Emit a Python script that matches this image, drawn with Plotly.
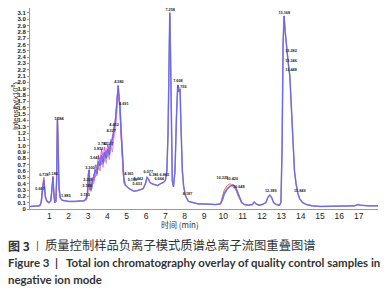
import plotly.graph_objects as go

# ---------------- data ----------------
rt = [0.0, 0.3, 0.5, 0.58, 0.63, 0.67, 0.72, 0.76, 0.8, 0.88, 0.98, 1.08, 1.14, 1.19, 1.23, 1.28,
      1.34, 1.38, 1.42, 1.46, 1.5, 1.56, 1.65, 1.8, 2.0, 2.3, 2.6, 2.8, 2.9, 2.97, 3.02, 3.06, 3.1,
      3.16, 3.22, 3.3, 3.38, 3.46, 3.54, 3.62, 3.7, 3.78, 3.86, 3.94, 4.02, 4.1, 4.18, 4.26, 4.34,
      4.42, 4.5, 4.56, 4.61, 4.66, 4.72, 4.78, 4.85, 4.92, 5.0, 5.1, 5.25, 5.4, 5.55, 5.7, 5.85,
      5.97, 6.05, 6.12, 6.2, 6.3, 6.45, 6.6, 6.75, 6.9, 7.0, 7.08, 7.14, 7.19, 7.23, 7.27, 7.31,
      7.36, 7.42, 7.5, 7.58, 7.64, 7.7, 7.76, 7.82, 7.88, 7.95, 8.05, 8.2, 8.4, 8.7, 9.0, 9.3, 9.6,
      9.85, 9.95, 10.05, 10.2, 10.35, 10.5, 10.65, 10.8, 10.95, 11.1, 11.3, 11.5, 11.6, 11.7, 11.85,
      12.0, 12.2, 12.3, 12.4, 12.5, 12.6, 12.75, 12.9, 12.98, 13.04, 13.09, 13.14, 13.2, 13.28,
      13.36, 13.44, 13.52, 13.6, 13.68, 13.76, 13.85, 13.95, 14.1, 14.3, 14.6, 15.0, 15.5, 16.0,
      16.5, 16.8, 16.95, 17.1, 17.5, 18.0]

blue = [0.04, 0.04, 0.05, 0.1, 0.3, 0.35, 0.46, 0.28, 0.18, 0.12, 0.1, 0.13, 0.3, 0.5, 0.25, 0.1,
        0.12, 0.5, 1.45, 0.9, 0.35, 0.18, 0.14, 0.13, 0.12, 0.12, 0.12, 0.13, 0.16, 0.25, 0.55, 0.62,
        0.35, 0.3, 0.4, 0.5, 0.62, 0.55, 0.75, 0.68, 0.85, 0.72, 0.9, 0.8, 0.95, 0.85, 1.05, 1.1,
        1.25, 1.4, 1.7, 1.95, 1.75, 1.6, 1.2, 0.8, 0.5, 0.38, 0.35, 0.33, 0.3, 0.28, 0.29, 0.3, 0.32,
        0.4, 0.5, 0.48, 0.42, 0.4, 0.38, 0.37, 0.4, 0.42, 0.45, 0.6, 1.2, 2.3, 3.1, 2.4, 1.0,
        0.45, 0.35, 0.6, 1.5, 1.95, 1.85, 1.9, 1.2, 0.6, 0.35, 0.2, 0.12, 0.1, 0.08, 0.08, 0.07, 0.07,
        0.08, 0.15, 0.25, 0.32, 0.36, 0.38, 0.33, 0.2, 0.1, 0.07, 0.06, 0.07, 0.11, 0.08, 0.06,
        0.07, 0.1, 0.18, 0.22, 0.18, 0.1, 0.07, 0.06, 0.1, 1.0, 2.6, 3.05, 2.8, 2.5,
        2.3, 2.1, 1.6, 1.1, 0.6, 0.4, 0.25, 0.16, 0.1, 0.07, 0.05, 0.04, 0.04, 0.04,
        0.04, 0.05, 0.07, 0.06, 0.05, 0.05]

rt_mid = [2.9, 2.97, 3.02, 3.06, 3.1, 3.16, 3.22, 3.3, 3.38, 3.46, 3.54, 3.62, 3.7, 3.78, 3.86,
          3.94, 4.02, 4.1, 4.18, 4.26, 4.34, 4.42, 4.5, 4.56, 4.61, 4.66, 4.72, 4.78, 4.85]
magenta_mid = [0.15, 0.22, 0.5, 0.58, 0.3, 0.35, 0.5, 0.45, 0.7, 0.6, 0.85, 0.7, 0.95, 0.8, 0.98,
               0.85, 1.02, 0.92, 1.1, 1.0, 1.3, 1.35, 1.75, 1.9, 1.7, 1.55, 1.1, 0.75, 0.45]
green_mid = [0.14, 0.2, 0.45, 0.55, 0.32, 0.28, 0.35, 0.55, 0.5, 0.7, 0.62, 0.8, 0.7, 0.88, 0.75,
             0.92, 0.82, 1.0, 0.95, 1.15, 1.2, 1.45, 1.6, 1.85, 1.8, 1.5, 1.15, 0.7, 0.42]
pink_mid = [0.13, 0.18, 0.4, 0.5, 0.28, 0.3, 0.42, 0.4, 0.58, 0.52, 0.72, 0.6, 0.8, 0.66, 0.85,
            0.72, 0.9, 0.78, 0.98, 0.9, 1.12, 1.25, 1.55, 1.8, 1.72, 1.45, 1.05, 0.65, 0.4]

rt_early = [0.5, 0.58, 0.63, 0.67, 0.72, 0.76, 0.8, 0.88, 0.98, 1.08, 1.14, 1.19, 1.23, 1.28, 1.34,
            1.38, 1.42, 1.46, 1.5, 1.56, 1.65]
red_early = [0.05, 0.12, 0.33, 0.4, 0.5, 0.3, 0.2, 0.13, 0.11, 0.14, 0.32, 0.52, 0.27, 0.11, 0.13,
             0.45, 1.4, 0.85, 0.3, 0.17, 0.14]

rt_late = [9.85, 9.95, 10.05, 10.2, 10.35, 10.5, 10.65, 10.8, 10.95, 11.1]
red_late = [0.08, 0.18, 0.3, 0.37, 0.4, 0.36, 0.3, 0.18, 0.1, 0.07]
green_late = [0.08, 0.13, 0.22, 0.3, 0.35, 0.39, 0.35, 0.22, 0.11, 0.07]

peak_text = ["0.667", "0.738", "1.180", "1.384", "1.885", "3.150", "3.188", "3.209", "3.300",
             "3.641", "3.852", "3.792", "4.127", "4.327", "4.452", "4.580", "4.691", "4.961",
             "5.185", "5.442", "5.633", "6.077", "6.386", "6.664", "6.865", "7.258", "7.608",
             "7.756", "8.187", "10.325", "10.420", "10.648", "12.389", "13.168", "13.282",
             "13.346", "13.448", "13.849"]
peak_rt = [0.52, 0.72, 1.2, 1.5, 1.85, 2.85, 2.95, 3.0, 3.1, 3.35, 3.55, 3.75, 4.05, 4.2, 4.35,
           4.6, 4.85, 5.12, 5.3, 5.6, 5.55, 6.12, 6.4, 6.68, 6.95, 7.25, 7.65, 7.85, 8.15, 9.95,
           10.46, 10.8, 12.45, 13.15, 13.5, 13.5, 13.5, 13.95]
peak_int = [0.31, 0.53, 0.55, 1.42, 0.2, 0.22, 0.36, 0.46, 0.64, 0.8, 0.94, 1.03, 1.02, 1.23,
            1.33, 2.0, 1.65, 0.55, 0.45, 0.47, 0.39, 0.58, 0.53, 0.47, 0.53, 3.14, 2.02, 1.92, 0.24,
            0.49, 0.47, 0.34, 0.28, 3.1, 2.5, 2.33, 2.2, 0.28]

x_ticks = list(range(1, 18))
y_ticks = [i / 10 for i in range(0, 32)]
y_ticktext = ["0"] + [f"{v:.1f}" for v in y_ticks[1:]]

# ---------------- figure ----------------
# the page body has an 8 px margin; coordinates below are page pixels minus 8
OFF = 8
W, H = 382, 292
ML, MR, MT, MB = 22, 12, 0, 91
plot_h = H - MT - MB
plot_w = W - ML - MR


def py2paper(py):  # py: screenshot pixel
    return (H - MB - (py - OFF)) / plot_h


def px2paper(px):  # px: screenshot pixel
    return ((px - OFF) - ML) / plot_w


fig = go.Figure()


def add_line(x, y, color, width=1.0):
    fig.add_trace(go.Scatter(x=x, y=y, mode="lines", line=dict(color=color, width=width),
                             hoverinfo="skip", showlegend=False))


add_line(rt, blue, "rgba(120,200,120,0.8)", 1.3)
add_line(rt_mid, green_mid, "rgba(90,190,90,0.9)")
add_line(rt_mid, pink_mid, "rgba(240,120,200,0.9)")
add_line(rt_mid, magenta_mid, "rgba(215,70,210,0.9)")
add_line(rt_early, red_early, "rgba(230,90,80,0.9)")
add_line(rt_late, red_late, "rgba(230,80,80,0.9)")
add_line(rt_late, green_late, "rgba(90,190,90,0.9)")
add_line(rt, blue, "rgba(175,130,235,0.9)", 1.5)
add_line(rt, blue, "#6468e6", 1.0)

fig.add_trace(go.Scatter(x=peak_rt, y=peak_int, mode="text", text=peak_text,
                         textfont=dict(size=3.8, color="#222", family="Liberation Sans", weight="bold"),
                         hoverinfo="skip", showlegend=False))

fig.update_layout(
    width=W, height=H,
    margin=dict(l=ML, r=MR, t=MT, b=MB),
    paper_bgcolor="white", plot_bgcolor="white",
    xaxis=dict(range=[0, 18], tickvals=x_ticks, ticktext=[str(v) for v in x_ticks],
               showgrid=False, zeroline=False, showline=True, linecolor="#9a9a9a", linewidth=1,
               ticks="", ticklabelstandoff=-1,
               tickfont=dict(size=8.5, color="#222", family="Liberation Sans")),
    yaxis=dict(range=[0, 3.175], tickvals=y_ticks, ticktext=y_ticktext,
               showgrid=False, zeroline=False, showline=True, linecolor="#9a9a9a", linewidth=1,
               ticks="outside", ticklen=2, tickcolor="#9a9a9a",
               tickfont=dict(size=6, color="#222", family="Liberation Sans", weight="bold")),
    font=dict(family="Liberation Sans"),
)

annos = [
    dict(text="时间 (min)", x=px2paper(180), y=py2paper(224), xanchor="center", yanchor="middle",
         font=dict(size=8, color="#333", family="Noto Sans CJK SC")),
    dict(text="Intensity(x10<sup>8</sup>)", x=px2paper(15), y=py2paper(106), xanchor="center",
         yanchor="middle", textangle=-90, font=dict(size=7.5, color="#222", family="Liberation Sans")),
    # caption line 1
    dict(text="<b>图 3</b>", x=px2paper(6), y=py2paper(245), xanchor="left", yanchor="middle",
         font=dict(size=12, color="#333", family="Noto Sans CJK SC")),
    dict(text="|", x=px2paper(37), y=py2paper(245), xanchor="center", yanchor="middle",
         font=dict(size=11, color="#555", family="Liberation Sans")),
    dict(text="质量控制样品负离子模式质谱总离子流图重叠图谱", x=px2paper(43), y=py2paper(245),
         xanchor="left", yanchor="middle",
         font=dict(size=12.3, color="#333", family="Noto Sans CJK SC")),
    # caption line 2
    dict(text="<b>Figure 3\u00a0\u00a0|\u00a0\u00a0\u00a0Total ion chromatography overlay of quality control samples in</b>",
         x=px2paper(6), y=py2paper(262), xanchor="left", yanchor="middle",
         font=dict(size=11.45, color="#333", family="Lato")),
    dict(text="<b>negative ion mode</b>",
         x=px2paper(6), y=py2paper(279), xanchor="left", yanchor="middle",
         font=dict(size=11.45, color="#333", family="Lato")),
]
for a in annos:
    a.update(xref="paper", yref="paper", showarrow=False)
    fig.add_annotation(**a)

fig.write_html("out.html")
